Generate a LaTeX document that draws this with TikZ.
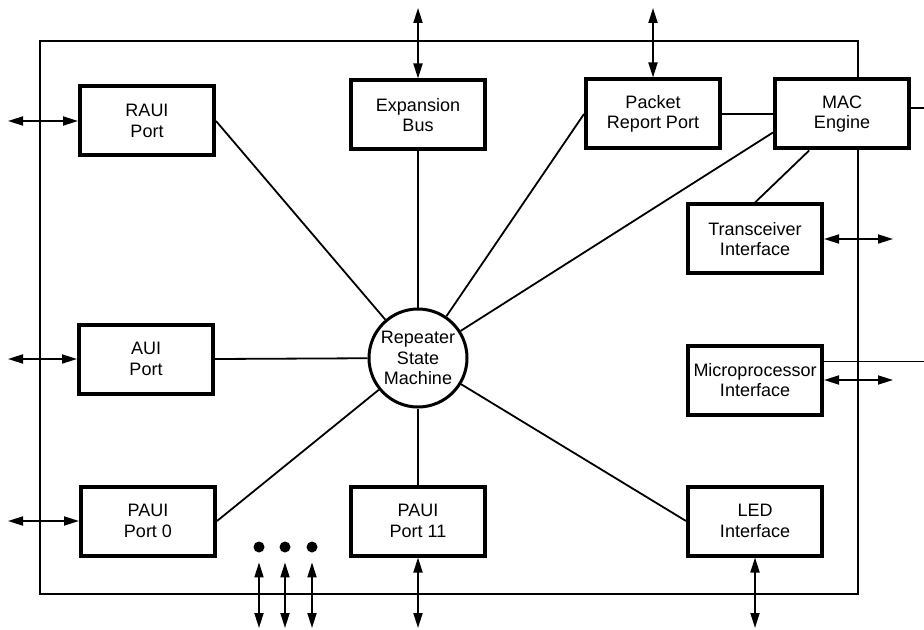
\documentclass[tikz,border=0pt]{standalone}
\usepackage{fontspec}
\setmainfont{Liberation Sans}
\usetikzlibrary{arrows.meta}

\begin{document}
\begin{tikzpicture}[x=0.5pt,y=-0.5pt,line width=0.9pt,
		>={Triangle[length=7.5pt,width=4.5pt]},
		blk/.style={draw,line width=2pt,fill=white,minimum width=67pt,minimum height=34.5pt,inner xsep=1.5pt,align=center,font=\fontsize{9}{10.2}\selectfont},
		hub/.style={draw,circle,line width=1.5pt,fill=white,minimum size=49pt,inner sep=0pt,align=center,font=\fontsize{9}{10.2}\selectfont},
		dot/.style={circle,fill=black,minimum size=5.5pt,inner sep=0pt}]
		\useasboundingbox (0,0) rectangle (924,630);
		\draw (40,41) rectangle (858,594);
		\coordinate (xl) at (8,0);
		\coordinate (xr) at (893,0);
		\coordinate (xe) at (924,0);
		\coordinate (yt) at (0,8);
		\coordinate (yb) at (0,628);
		\node[hub] (rsm) at (418,358) {Repeater\\State\\Machine};
		\node[blk] (raui) at (147,121) {RAUI\\Port};
		\node[blk] (aui) at (146,359) {AUI\\Port};
		\node[blk] (paui0) at (148,521) {PAUI\\Port 0};
		\node[blk] (exp) at (418,115) {Expansion\\Bus};
		\node[blk] (prp) at (653,114) {Packet\\Report Port};
		\node[blk] (mac) at (842,114) {MAC\\Engine};
		\node[blk] (xcvr) at (755,239) {Transceiver\\Interface};
		\node[blk] (micro) at (755,380) {Microprocessor\\Interface};
		\node[blk] (led) at (755,521) {LED\\Interface};
		\node[blk] (paui11) at (418,521) {PAUI\\Port 11};
		\draw (raui.east) -- (rsm);
		\draw (aui.east) -- (rsm);
		\draw (paui0.east) -- (rsm);
		\draw (exp) -- (rsm);
		\draw (prp.west) -- (rsm);
		\draw (mac.195) -- (rsm);
		\draw (led.west) -- (rsm);
		\draw (paui11) -- (rsm);
		\draw (prp) -- (mac);
		\draw (mac.228) -- (xcvr.north);
		\draw (mac.5) -- (mac.5 -| xe);
		\draw (micro.15) -- (micro.15 -| xe);
		\draw [<->] (raui.west) -- (raui.west -| xl);
		\draw [<->] (aui.west) -- (aui.west -| xl);
		\draw [<->] (paui0.west) -- (paui0.west -| xl);
		\draw [<->] (exp.north) -- (exp.north |- yt);
		\draw [<->] (prp.north) -- (prp.north |- yt);
		\draw [<->] (xcvr.east) -- (xcvr.east -| xr);
		\draw [<->] (micro.east) -- (micro.east -| xr);
		\draw [<->] (paui11.south) -- (paui11.south |- yb);
		\draw [<->] (led.south) -- (led.south |- yb);
		\foreach \x [count=\i] in {259,285,312}{
			\node[dot] (d\i) at (\x,547) {};
			\draw [<->] ([yshift=-4.5pt]d\i.south) -- (d\i |- yb);
		}
	\end{tikzpicture}
\end{document}
